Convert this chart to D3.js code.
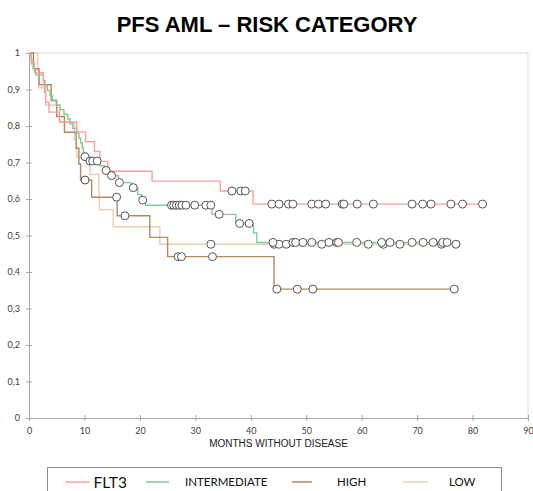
<!DOCTYPE html>
<html>
<head>
<meta charset="utf-8">
<script src="https://cdn.jsdelivr.net/npm/d3@7"></script>
<style>
  html, body { margin: 0; padding: 0; background: #fff; }
  svg { display: block; }
</style>
</head>
<body>
<svg id="chart" width="533" height="491"></svg>
<script>
// Kaplan–Meier progression-free survival by risk category.
// Each curve: [month, survival] at every event; censored patients as months.
const seriesNames = ["FLT3", "INTERMEDIATE", "HIGH", "LOW"];
const seriesColors = ["#f8a0a0", "#7fcb9c", "#b38a60", "#e8cfb0"];

const flt3Steps = [
  [0, 1], [0.4, 0.973], [1.0, 0.946], [2.6, 0.919], [2.8, 0.892], [3.0, 0.865],
  [3.6, 0.838], [5.5, 0.811], [8.6, 0.784], [10.2, 0.757], [11.8, 0.73],
  [12.8, 0.703], [14.2, 0.676], [22.2, 0.649], [34.5, 0.622], [40.4, 0.586]
];
const flt3Censored = [36.6, 38.2, 39.0, 43.8, 45.1, 46.8, 47.6, 51.0, 52.2, 53.5,
  56.5, 56.8, 59.2, 62.1, 69.1, 71.0, 72.5, 76.1, 78.2, 81.8];

const intermediateSteps = [
  [0, 1], [0.2, 0.985], [0.5, 0.97], [0.8, 0.955], [1.2, 0.94], [2.6, 0.925],
  [2.9, 0.91], [3.3, 0.897], [3.8, 0.884], [4.2, 0.871], [4.9, 0.858],
  [5.6, 0.845], [6.3, 0.832], [7.0, 0.819], [7.4, 0.806], [7.9, 0.793],
  [8.6, 0.78], [9.0, 0.767], [9.3, 0.754], [9.6, 0.741], [9.8, 0.728],
  [10.0, 0.716], [10.8, 0.704], [12.8, 0.691], [13.6, 0.678], [14.6, 0.664],
  [16.1, 0.645], [18.5, 0.631], [19.6, 0.612], [20.3, 0.597], [21.0, 0.583],
  [33.0, 0.558], [37.3, 0.533], [40.5, 0.507], [41.1, 0.481]
];
const intermediateCensored = [10.1, 11.0, 11.5, 12.3, 13.9, 14.9, 16.3, 18.8, 20.5,
  25.7, 26.1, 26.6, 27.1, 27.6, 28.3, 29.9, 31.9, 32.8, 34.3, 38.0, 39.7,
  44.0, 47.6, 48.1, 49.4, 51.0, 54.1, 55.5, 55.8, 59.1, 63.6, 65.1, 69.1, 71.1,
  72.9, 74.6, 75.4];

const highSteps = [
  [0, 1], [0.8, 0.957], [1.8, 0.913], [4.0, 0.87], [5.0, 0.826], [6.4, 0.783],
  [8.5, 0.739], [9.0, 0.696], [9.3, 0.652], [11.3, 0.605], [15.9, 0.554],
  [21.8, 0.495], [25.0, 0.442], [44.2, 0.353]
];
const highCensored = [10.1, 15.8, 17.3, 26.9, 27.5, 33.1, 44.7, 48.4, 51.2, 76.7];

const lowSteps = [
  [0, 1], [1.6, 0.952], [1.8, 0.905], [3.0, 0.857], [5.5, 0.81], [8.2, 0.762],
  [8.6, 0.714], [11.0, 0.667], [12.6, 0.619], [12.7, 0.571], [15.2, 0.524],
  [23.6, 0.476]
];
const lowCensored = [32.8, 44.2, 45.1, 46.4, 52.8, 61.2, 63.9, 66.9, 74.4, 77.0];

const xTicks = [0, 10, 20, 30, 40, 50, 60, 70, 80, 90];
const yTicks = [0, 0.1, 0.2, 0.3, 0.4, 0.5, 0.6, 0.7, 0.8, 0.9, 1];
const titleText = "PFS AML \u2013 RISK CATEGORY";
const xAxisTitle = "MONTHS WITHOUT DISEASE";

const series = [
  { steps: flt3Steps, censored: flt3Censored },
  { steps: intermediateSteps, censored: intermediateCensored },
  { steps: highSteps, censored: highCensored },
  { steps: lowSteps, censored: lowCensored }
].map((s, i) => ({ ...s, name: seriesNames[i], color: seriesColors[i] }));

const svg = d3.select("#chart");
const plot = { left: 29, right: 528, top: 53, bottom: 418 };

const x = d3.scaleLinear().domain([0, 90]).range([plot.left, plot.right]);
const y = d3.scaleLinear().domain([0, 1]).range([plot.bottom, plot.top]);

// Title
svg.append("text")
  .attr("x", 267).attr("y", 32)
  .attr("text-anchor", "middle")
  .attr("font-family", "Liberation Sans, Arial, sans-serif")
  .attr("font-weight", "bold")
  .attr("font-size", 22)
  .attr("fill", "#000")
  .text(titleText);

// Frame lines at top and right of plot area
svg.append("line")
  .attr("x1", plot.left).attr("x2", plot.right)
  .attr("y1", y(1)).attr("y2", y(1))
  .attr("stroke", "#d9d9d9").attr("stroke-width", 1);
svg.append("line")
  .attr("x1", plot.right).attr("x2", plot.right)
  .attr("y1", y(1)).attr("y2", y(0))
  .attr("stroke", "#d9d9d9").attr("stroke-width", 1);

const fmtY = v => (v === 0 ? "0" : v === 1 ? "1" : d3.format(".1f")(v).replace(".", ","));

// Y axis
const yAxis = svg.append("g")
  .attr("transform", `translate(${plot.left},0)`)
  .call(d3.axisLeft(y).tickValues(yTicks).tickFormat(fmtY).tickSize(3).tickPadding(6));
yAxis.select(".domain").attr("stroke", "#a6a6a6");
yAxis.selectAll(".tick line").attr("stroke", "#a6a6a6").attr("x2", 3).attr("x1", -3);
yAxis.selectAll(".tick text")
  .attr("font-family", "Lato, Open Sans, sans-serif")
  .attr("font-size", 9).attr("fill", "#404040");

// X axis
const xAxis = svg.append("g")
  .attr("transform", `translate(0,${plot.bottom})`)
  .call(d3.axisBottom(x).tickValues(xTicks).tickFormat(d3.format("d")).tickSize(3).tickPadding(7));
xAxis.select(".domain").attr("stroke", "#a6a6a6");
xAxis.selectAll(".tick line").attr("stroke", "#a6a6a6").attr("y1", -3).attr("y2", 3);
xAxis.selectAll(".tick text")
  .attr("font-family", "Lato, Open Sans, sans-serif")
  .attr("font-size", 9).attr("fill", "#404040");

svg.append("text")
  .attr("x", x(45)).attr("y", 447)
  .attr("text-anchor", "middle")
  .attr("font-family", "Liberation Sans, Arial, sans-serif")
  .attr("font-size", 10)
  .attr("fill", "#222")
  .text(xAxisTitle);

// Survival at a given month (step function value)
function survivalAt(steps, t) {
  let s = steps[0][1];
  for (const [tm, v] of steps) { if (tm <= t) s = v; else break; }
  return s;
}

const stepLine = d3.line()
  .x(d => x(d[0])).y(d => y(d[1]))
  .curve(d3.curveStepAfter);

// Curves: drawn from back to front
const drawOrder = [3, 2, 1, 0];
drawOrder.forEach(i => {
  const s = series[i];
  const lastT = d3.max(s.censored);
  const pts = s.steps.concat([[lastT, survivalAt(s.steps, lastT)]]);
  svg.append("path")
    .attr("d", stepLine(pts))
    .attr("fill", "none")
    .attr("stroke", s.color)
    .attr("stroke-width", 1.4);
});

// Censoring marks
drawOrder.forEach(i => {
  const s = series[i];
  svg.append("g").selectAll("circle")
    .data(s.censored)
    .join("circle")
    .attr("cx", d => x(d))
    .attr("cy", d => y(survivalAt(s.steps, d)))
    .attr("r", 4)
    .attr("fill", "#fff")
    .attr("stroke", "#555")
    .attr("stroke-width", 1);
});

// Legend
const legend = svg.append("g");
legend.append("rect")
  .attr("x", 47.5).attr("y", 467.5)
  .attr("width", 454).attr("height", 40)
  .attr("fill", "#fff").attr("stroke", "#8c8c8c").attr("stroke-width", 1);

const legendItems = [
  { lx: [66, 90], tx: 93.5, size: 15.5 },
  { lx: [146, 169], tx: 185, size: 11.5 },
  { lx: [292, 312], tx: 337, size: 11.5 },
  { lx: [403, 428], tx: 449, size: 11.5 }
];
legendItems.forEach((it, i) => {
  legend.append("line")
    .attr("x1", it.lx[0]).attr("x2", it.lx[1])
    .attr("y1", 482).attr("y2", 482)
    .attr("stroke", seriesColors[i]).attr("stroke-width", 1.5);
  legend.append("text")
    .attr("x", it.tx).attr("y", i === 0 ? 487.5 : 486)
    .attr("font-family", "Lato, Open Sans, sans-serif")
    .attr("font-size", it.size)
    .attr("fill", "#111")
    .text(seriesNames[i]);
});
</script>
</body>
</html>
